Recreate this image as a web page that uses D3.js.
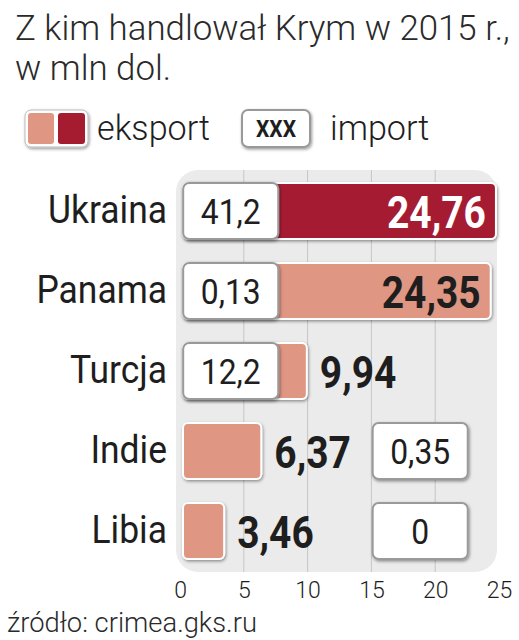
<!DOCTYPE html>
<html>
<head>
<meta charset="utf-8">
<script src="https://cdn.jsdelivr.net/npm/d3@7"></script>
<style>
  body { margin: 0; background: #fff; }
  text { font-family: Roboto, "Open Sans", sans-serif; fill: #1e1e1e; }
</style>
</head>
<body>
<div id="chart-area"></div>
<script>
// dane: handel Krymu w 2015 r., mln dol.
var countries = ["Ukraina", "Panama", "Turcja", "Indie", "Libia"];
var exportVals = [24.76, 24.35, 9.94, 6.37, 3.46];
var importVals = [41.2, 0.13, 12.2, 0.35, 0];
var highlight = ["Ukraina"];
var xTicks = [0, 5, 10, 15, 20, 25];
var gridTicks = [5, 10, 15, 20];

var width = 519, height = 640;
var darkRed = "#a51c30", salmon = "#df9683";

var svg = d3.select("#chart-area").append("svg")
    .attr("width", width)
    .attr("height", height);

var defs = svg.append("defs");
var shadow = defs.append("filter").attr("id", "shadow")
    .attr("x", "-20%").attr("y", "-20%").attr("width", "140%").attr("height", "150%");
shadow.append("feDropShadow")
    .attr("dx", 1).attr("dy", 1.5).attr("stdDeviation", 1.4)
    .attr("flood-color", "#000").attr("flood-opacity", 0.4);

var fmt = (v) => String(v).replace(".", ",");

// squeeze a selection of texts horizontally so that the reference text gets target width
function squeeze(sel, refIndex, target) {
    var nodes = sel.nodes();
    var k = target / nodes[refIndex].getComputedTextLength();
    sel.each(function() {
        var t = d3.select(this);
        var x = +t.attr("x"), y = +t.attr("y");
        t.attr("x", 0).attr("y", 0)
            .attr("transform", "translate(" + x + "," + y + ") scale(" + k + ",1)");
    });
}

var x = d3.scaleLinear().domain([0, 25]).range([180, 499]);
var y = d3.scaleBand().domain(countries).range([171, 571])
    .paddingInner(0.3).paddingOuter(0.15);

// title
var title = svg.append("g").selectAll("text")
    .data(["Z kim handlował Krym w 2015 r.,", "w mln dol."])
    .join("text")
    .attr("x", 15)
    .attr("y", (d, i) => 40 + i * 40)
    .style("font-size", "35px")
    .style("font-weight", 300)
    .style("fill", "#2a2a2a")
    .text((d) => d);
squeeze(title, 0, 495);

// legend
var legend = svg.append("g");
legend.append("rect")
    .attr("x", 25).attr("y", 110).attr("width", 63).attr("height", 37).attr("rx", 6)
    .attr("fill", "#fff").attr("stroke", "#bbb").attr("stroke-width", 1)
    .attr("filter", "url(#shadow)");
legend.append("rect")
    .attr("x", 28).attr("y", 113).attr("width", 26).attr("height", 31).attr("rx", 3)
    .attr("fill", salmon);
legend.append("rect")
    .attr("x", 58).attr("y", 113).attr("width", 27).attr("height", 31).attr("rx", 3)
    .attr("fill", darkRed);
var lgText = legend.selectAll("text.lg")
    .data([{t: "eksport", x: 97}, {t: "import", x: 330}])
    .join("text")
    .attr("class", "lg")
    .attr("x", (d) => d.x).attr("y", 140)
    .style("font-size", "35px").style("font-weight", 300)
    .text((d) => d.t);
squeeze(lgText, 0, 113);
legend.append("rect")
    .attr("x", 242).attr("y", 110).attr("width", 68).attr("height", 37).attr("rx", 6)
    .attr("fill", "#fff").attr("stroke", "#999").attr("stroke-width", 2)
    .attr("filter", "url(#shadow)");
var xxx = legend.append("text")
    .attr("x", 276).attr("y", 137)
    .attr("text-anchor", "middle")
    .style("font-size", "24px").style("font-weight", 700)
    .text("XXX");
squeeze(xxx, 0, 40);

// panel
var g = svg.append("g");
g.append("rect")
    .attr("x", 176).attr("y", 170)
    .attr("width", 321).attr("height", 402)
    .attr("rx", 22)
    .attr("fill", "#ebebeb");
g.selectAll("line.grid")
    .data(gridTicks)
    .join("line")
    .attr("class", "grid")
    .attr("x1", (d) => x(d)).attr("x2", (d) => x(d))
    .attr("y1", 170).attr("y2", 572)
    .attr("stroke", "#c6c6c6").attr("stroke-width", 1);

var rows = countries.map((c, i) => ({
    name: c, ex: exportVals[i], im: importVals[i]
}));

// export bars
g.selectAll("rect.bar")
    .data(rows)
    .join("rect")
    .attr("class", "bar")
    .attr("x", x(0) + 3)
    .attr("y", (d) => y(d.name))
    .attr("width", (d) => x(d.ex) - x(0) - 3)
    .attr("height", y.bandwidth())
    .attr("rx", 5)
    .attr("fill", (d) => highlight.includes(d.name) ? darkRed : salmon)
    .attr("stroke", "#fff").attr("stroke-width", 2)
    .attr("filter", "url(#shadow)");

// import boxes: on the left when the bar is long enough, otherwise right of the label
var boxW = 7.45;
var boxStart = (d) => d.ex > boxW ? 0.25 : 15.1;
g.selectAll("rect.imp")
    .data(rows)
    .join("rect")
    .attr("class", "imp")
    .attr("x", (d) => x(boxStart(d)))
    .attr("y", (d) => y(d.name))
    .attr("width", x(boxW) - x(0))
    .attr("height", y.bandwidth())
    .attr("rx", 6)
    .attr("fill", "#fff")
    .attr("stroke", "#9a9a9a").attr("stroke-width", 2)
    .attr("filter", "url(#shadow)");

var impText = g.selectAll("text.imp")
    .data(rows)
    .join("text")
    .attr("class", "imp")
    .attr("x", (d) => x(boxStart(d) + boxW / 2))
    .attr("y", (d) => y(d.name) + y.bandwidth() / 2 + 13)
    .attr("text-anchor", "middle")
    .style("font-size", "35px")
    .text((d) => fmt(d.im));
squeeze(impText, 0, 60);

// export values
var inside = (d) => d.ex > 20;
var exText = g.selectAll("text.ex")
    .data(rows)
    .join("text")
    .attr("class", "ex")
    .attr("x", (d) => inside(d) ? x(d.ex) - 10 : x(d.ex) + 13)
    .attr("y", (d) => y(d.name) + y.bandwidth() / 2 + 16.5)
    .attr("text-anchor", (d) => inside(d) ? "end" : "start")
    .style("font-size", "45px")
    .style("font-weight", 700)
    .style("fill", (d) => highlight.includes(d.name) ? "#fff" : "#1e1e1e")
    .text((d) => fmt(d.ex));
squeeze(exText, 0, 99);

// category labels
var cat = svg.append("g").selectAll("text")
    .data(countries)
    .join("text")
    .attr("x", 167)
    .attr("y", (d) => y(d) + y.bandwidth() / 2 + 12)
    .attr("text-anchor", "end")
    .style("font-size", "39px")
    .text((d) => d);
squeeze(cat, 0, 119);

// x axis
var xAxis = svg.append("g")
    .attr("transform", "translate(0, 572)")
    .call(d3.axisBottom(x).tickValues(xTicks).tickSize(0).tickPadding(10));
xAxis.select(".domain").remove();
xAxis.selectAll("text")
    .style("font-size", "23px")
    .style("font-weight", 300)
    .style("font-family", "Roboto, sans-serif")
    .attr("fill", "#2a2a2a");

// source
var src = svg.append("text")
    .attr("x", 7).attr("y", 632)
    .style("font-size", "28px").style("font-weight", 300)
    .style("fill", "#2a2a2a")
    .text("źródło: crimea.gks.ru");
squeeze(src, 0, 250);
</script>
</body>
</html>
